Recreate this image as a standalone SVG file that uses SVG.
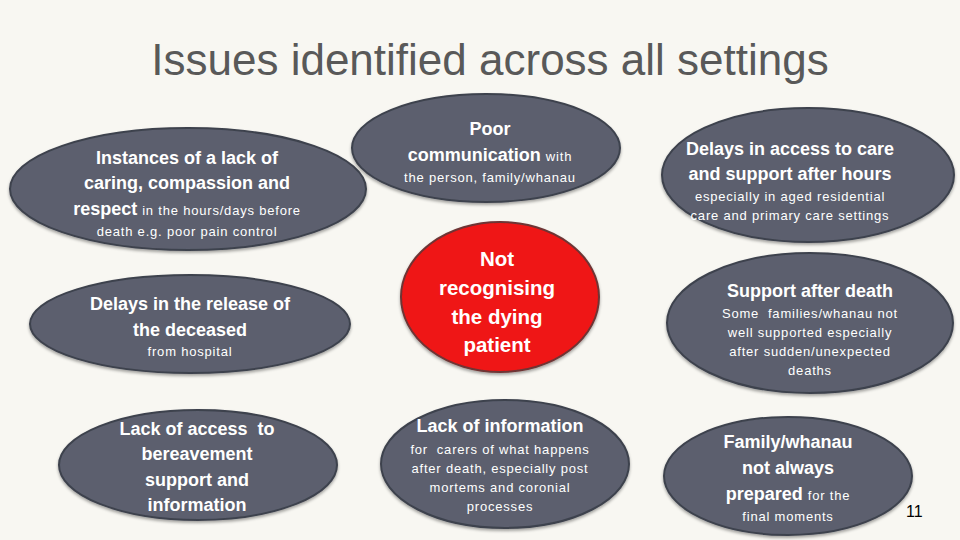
<svg xmlns="http://www.w3.org/2000/svg" width="960" height="540" viewBox="0 0 960 540">
<defs>
<filter id="sh" x="-10%" y="-10%" width="120%" height="130%"><feDropShadow dx="0" dy="2" stdDeviation="1.5" flood-color="#000" flood-opacity="0.35"/></filter>
<style>
.bg{fill:#f8f7f2}
.n{fill:#5b5f6e;stroke:#3e424d;stroke-width:2;filter:url(#sh)}
.r{fill:#ef1515;stroke:#6e3535;stroke-width:2;filter:url(#sh)}
text{font-family:"Liberation Sans",Arial,sans-serif;fill:#ffffff;text-anchor:middle}
.b{font-weight:bold;font-size:18px;letter-spacing:0px}
.s{font-size:13px;letter-spacing:0.8px;font-weight:normal}
.rt{font-weight:bold;font-size:20.5px}
.title{font-size:44px;fill:#595959}
.pg{font-size:16px;fill:#000;text-anchor:start}
</style>
</defs>
<rect class="bg" width="960" height="540"/>
<text class="title" x="490" y="75">Issues identified across all settings</text>

<g id="n1">
<ellipse class="n" cx="188" cy="189" rx="178" ry="61"/>
<text class="b" x="187" y="164">Instances of a lack of</text>
<text class="b" x="187" y="189">caring, compassion and</text>
<text class="b" x="187" y="215">respect <tspan class="s"> in the hours/days before</tspan></text>
<text class="s" x="187" y="236">death e.g. poor pain control</text>
</g>

<g id="n2">
<ellipse class="n" cx="486" cy="148" rx="134" ry="54"/>
<text class="b" x="490" y="135">Poor</text>
<text class="b" x="490" y="161">communication <tspan class="s">with</tspan></text>
<text class="s" x="490" y="182">the person, family/whanau</text>
</g>

<g id="n3">
<ellipse class="n" cx="808" cy="175" rx="146" ry="67"/>
<text class="b" x="790" y="155">Delays in access to care</text>
<text class="b" x="790" y="180">and support after hours</text>
<text class="s" x="790" y="201">especially in aged residential</text>
<text class="s" x="790" y="220">care and primary care settings</text>
</g>

<g id="n4">
<ellipse class="r" cx="500" cy="297" rx="99" ry="75"/>
<text class="rt" x="497" y="266">Not</text>
<text class="rt" x="497" y="295">recognising</text>
<text class="rt" x="497" y="324">the dying</text>
<text class="rt" x="497" y="352">patient</text>
</g>

<g id="n5">
<ellipse class="n" cx="810" cy="323" rx="143" ry="70"/>
<text class="b" x="810" y="297">Support after death</text>
<text class="s" x="810" y="318">Some&#160; families/whanau not</text>
<text class="s" x="810" y="337">well supported especially</text>
<text class="s" x="810" y="356">after sudden/unexpected</text>
<text class="s" x="810" y="375">deaths</text>
</g>

<g id="n6">
<ellipse class="n" cx="190" cy="324" rx="160" ry="49"/>
<text class="b" x="190" y="310">Delays in the release of</text>
<text class="b" x="190" y="336">the deceased</text>
<text class="s" x="190" y="356">from hospital</text>
</g>

<g id="n7">
<ellipse class="n" cx="198" cy="465" rx="139" ry="55"/>
<text class="b" x="197" y="435">Lack of access&#160; to</text>
<text class="b" x="197" y="460">bereavement</text>
<text class="b" x="197" y="486">support and</text>
<text class="b" x="197" y="511">information</text>
</g>

<g id="n8">
<ellipse class="n" cx="505" cy="464" rx="124" ry="64"/>
<text class="b" x="500" y="432">Lack of information</text>
<text class="s" x="500" y="454">for&#160; carers of what happens</text>
<text class="s" x="500" y="473">after death, especially post</text>
<text class="s" x="500" y="492">mortems and coronial</text>
<text class="s" x="500" y="511">processes</text>
</g>

<g id="n9">
<ellipse class="n" cx="788" cy="476" rx="124" ry="59"/>
<text class="b" x="788" y="448">Family/whanau</text>
<text class="b" x="788" y="474">not always</text>
<text class="b" x="788" y="500">prepared <tspan class="s">for the</tspan></text>
<text class="s" x="788" y="521">final moments</text>
</g>

<g id="connectors"></g>
<text class="pg" x="906" y="517">11</text>
</svg>
